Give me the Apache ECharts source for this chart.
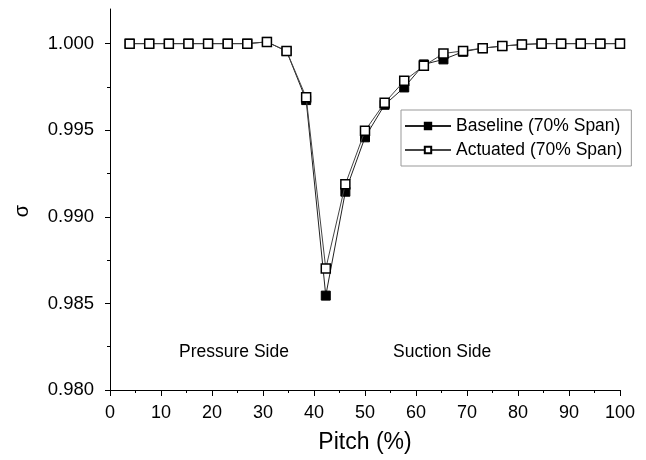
<!DOCTYPE html>
<html>
<head>
<meta charset="utf-8">
<script src="https://cdn.jsdelivr.net/npm/echarts@6/dist/echarts.min.js"></script>
<style>html,body{margin:0;padding:0;background:#fff}#c{width:646px;height:460px}</style>
</head>
<body>
<div id="c"></div>
<script>
var pitch = [3.85, 7.69, 11.54, 15.38, 19.23, 23.08, 26.92, 30.77, 34.62, 38.46, 42.31, 46.15, 50.00, 53.85, 57.69, 61.54, 65.38, 69.23, 73.08, 76.92, 80.77, 84.62, 88.46, 92.31, 96.15, 100.00];
var baseline = [1.0000, 1.0000, 1.0000, 1.0000, 1.0000, 1.0000, 1.0000, 1.0001, 0.99957, 0.99674, 0.98545, 0.99145, 0.99459, 0.99647, 0.99747, 0.99880, 0.99909, 0.99953, 0.99974, 0.99986, 0.99995, 1.0000, 1.0000, 1.0000, 1.0000, 1.0000];
var actuated = [1.0000, 1.0000, 1.0000, 1.0000, 1.0000, 1.0000, 1.0000, 1.0001, 0.99957, 0.99690, 0.98701, 0.99188, 0.99497, 0.99658, 0.99785, 0.99872, 0.99943, 0.99958, 0.99974, 0.99986, 0.99995, 1.0000, 1.0000, 1.0000, 1.0000, 1.0000];
var yMajor = [0.980, 0.985, 0.990, 0.995, 1.000];
var yMinor = [0.9825, 0.9875, 0.9925, 0.9975];
var seriesNames = ['Baseline (70% Span)', 'Actuated (70% Span)'];
var regionLabels = ['Pressure Side', 'Suction Side'];
var xTitle = 'Pitch (%)';
var yTitle = 'σ';

var font = 'Liberation Sans, Arial, sans-serif';
function pairs(ys){ return pitch.map(function(x,i){ return [x, ys[i]]; }); }

var chart = echarts.init(document.getElementById('c'), null, {renderer:'canvas'});
chart.setOption({
  animation: false,
  backgroundColor: '#fff',
  textStyle: {fontFamily: font},
  grid: {left: 110, right: 26, top: 9, bottom: 70},
  legend: {
    orient: 'vertical', left: 401, top: 110,
    padding: [7, 9, 7, 3], itemGap: 6, itemWidth: 46, itemHeight: 8,
    borderColor: '#999', borderWidth: 1,
    textStyle: {fontSize: 17.5, color: '#000', fontFamily: font},
    data: seriesNames
  },
  xAxis: {
    type: 'value', min: 0, max: 100, interval: 10,
    name: xTitle, nameLocation: 'middle', nameGap: 41,
    nameTextStyle: {fontSize: 23, color: '#000', fontFamily: font},
    axisLine: {lineStyle: {color: '#000', width: 1}},
    axisTick: {length: 6, lineStyle: {color: '#000'}},
    minorTick: {show: true, splitNumber: 2, length: 3, lineStyle: {color: '#000'}},
    axisLabel: {fontSize: 18, color: '#000', margin: 14, fontFamily: font},
    splitLine: {show: false}
  },
  yAxis: [{
    type: 'value', min: 0.980, max: 1.002,
    axisLine: {lineStyle: {color: '#000', width: 1}},
    axisTick: {length: 5, lineStyle: {color: '#000'}, customValues: yMajor},
    axisLabel: {fontSize: 18.5, color: '#000', margin: 16, fontFamily: font, customValues: yMajor,
      formatter: function(v){ return v.toFixed(3); }},
    splitLine: {show: false}
  }, {
    type: 'value', min: 0.980, max: 1.002, position: 'left',
    axisLine: {show: false},
    axisTick: {length: 3, lineStyle: {color: '#000'}, customValues: yMinor},
    axisLabel: {show: false},
    splitLine: {show: false}
  }],
  graphic: [
    {type: 'text', left: 179, top: 343, style: {text: regionLabels[0], fontSize: 17.5, fill: '#000', fontFamily: font}},
    {type: 'text', left: 393, top: 343, style: {text: regionLabels[1], fontSize: 17.5, fill: '#000', fontFamily: font}},
    {type: 'text', x: 22, y: 211, rotation: Math.PI / 2,
      style: {text: yTitle, fontSize: 20, fill: '#000', fontFamily: font, align: 'center', verticalAlign: 'middle'}}
  ],
  series: [{
    name: seriesNames[0], type: 'line', data: pairs(baseline),
    symbol: 'rect', symbolSize: 9, z: 2,
    lineStyle: {color: '#222', width: 1},
    itemStyle: {color: '#000', borderColor: '#000', borderWidth: 1}
  }, {
    name: seriesNames[1], type: 'line', data: pairs(actuated),
    symbol: 'rect', symbolSize: 9, z: 3,
    lineStyle: {color: '#444', width: 1},
    itemStyle: {color: '#fff', borderColor: '#000', borderWidth: 1.5}
  }]
});
</script>
</body>
</html>
